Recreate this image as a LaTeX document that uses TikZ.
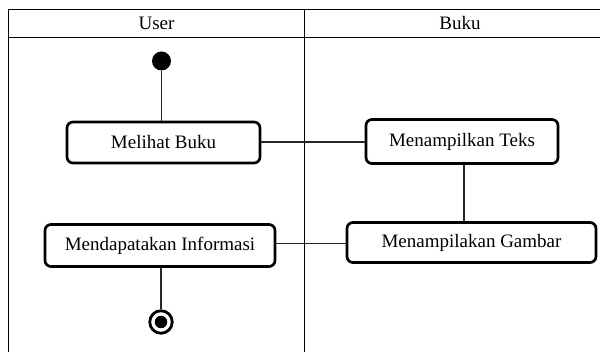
\documentclass[tikz,border=0pt]{standalone}
\usepackage{fontspec}
\setmainfont{Liberation Serif}
\begin{document}
\begin{tikzpicture}[x=1pt,y=-1pt,
  font=\fontsize{19}{22}\selectfont,
  lane/.style={line width=1.4pt},
  activity/.style={draw, line width=2.7pt, rounded corners=6pt, inner sep=0pt, align=center},
  flow/.style={line width=1.2pt, draw=black!85},
  startnode/.style={circle, fill=black, inner sep=0pt, minimum size=19pt},
  endring/.style={circle, draw, line width=2.8pt, inner sep=0pt, minimum size=22.5pt},
  enddot/.style={circle, fill=black, inner sep=0pt, minimum size=12.5pt}]
  \useasboundingbox (0,0) rectangle (600,352);

  % swimlane frame
  \begin{scope}
    \clip (0,0) rectangle (600,352);
    \draw[lane] (8.5,9.5) -- (620,9.5);
    \draw[lane] (8.5,37.5) -- (620,37.5);
    \draw[lane] (8.5,9.5) -- (8.5,360);
    \draw[lane] (304.5,9.5) -- (304.5,360);
  \end{scope}
  \node (userlane) at (156.5,23.5) {User};
  \node (bukulane) at (460,23.5) {Buku};

  % activities
  \node[startnode] (start) at (161.5,61) {};
  \node[activity, minimum width=193pt, minimum height=41pt] (melihat) at (163.5,142.5) {Melihat Buku};
  \node[activity, minimum width=192pt, minimum height=44pt] (teks) at (462,141.5) {Menampilkan Teks};
  \node[activity, minimum width=249pt, minimum height=40pt] (gambar) at (471.5,242.5) {Menampilakan Gambar};
  \node[activity, minimum width=230pt, minimum height=42pt] (info) at (160,245.5) {Mendapatakan Informasi};
  \node[endring] (finish) at (161,322) {};
  \node[enddot] (finishdot) at (finish.center) {};

  % flows
  \draw[flow] (start) -- (start |- melihat.north);
  \draw[flow] (melihat.east |- 0,142) -- (teks.west |- 0,142);
  \draw[flow] (464,0 |- teks.south) -- (464,0 |- gambar.north);
  \draw[flow] (info.east |- 0,243.5) -- (gambar.west |- 0,243.5);
  \draw[flow] (finish |- info.south) -- (finish.north);
\end{tikzpicture}
\end{document}
